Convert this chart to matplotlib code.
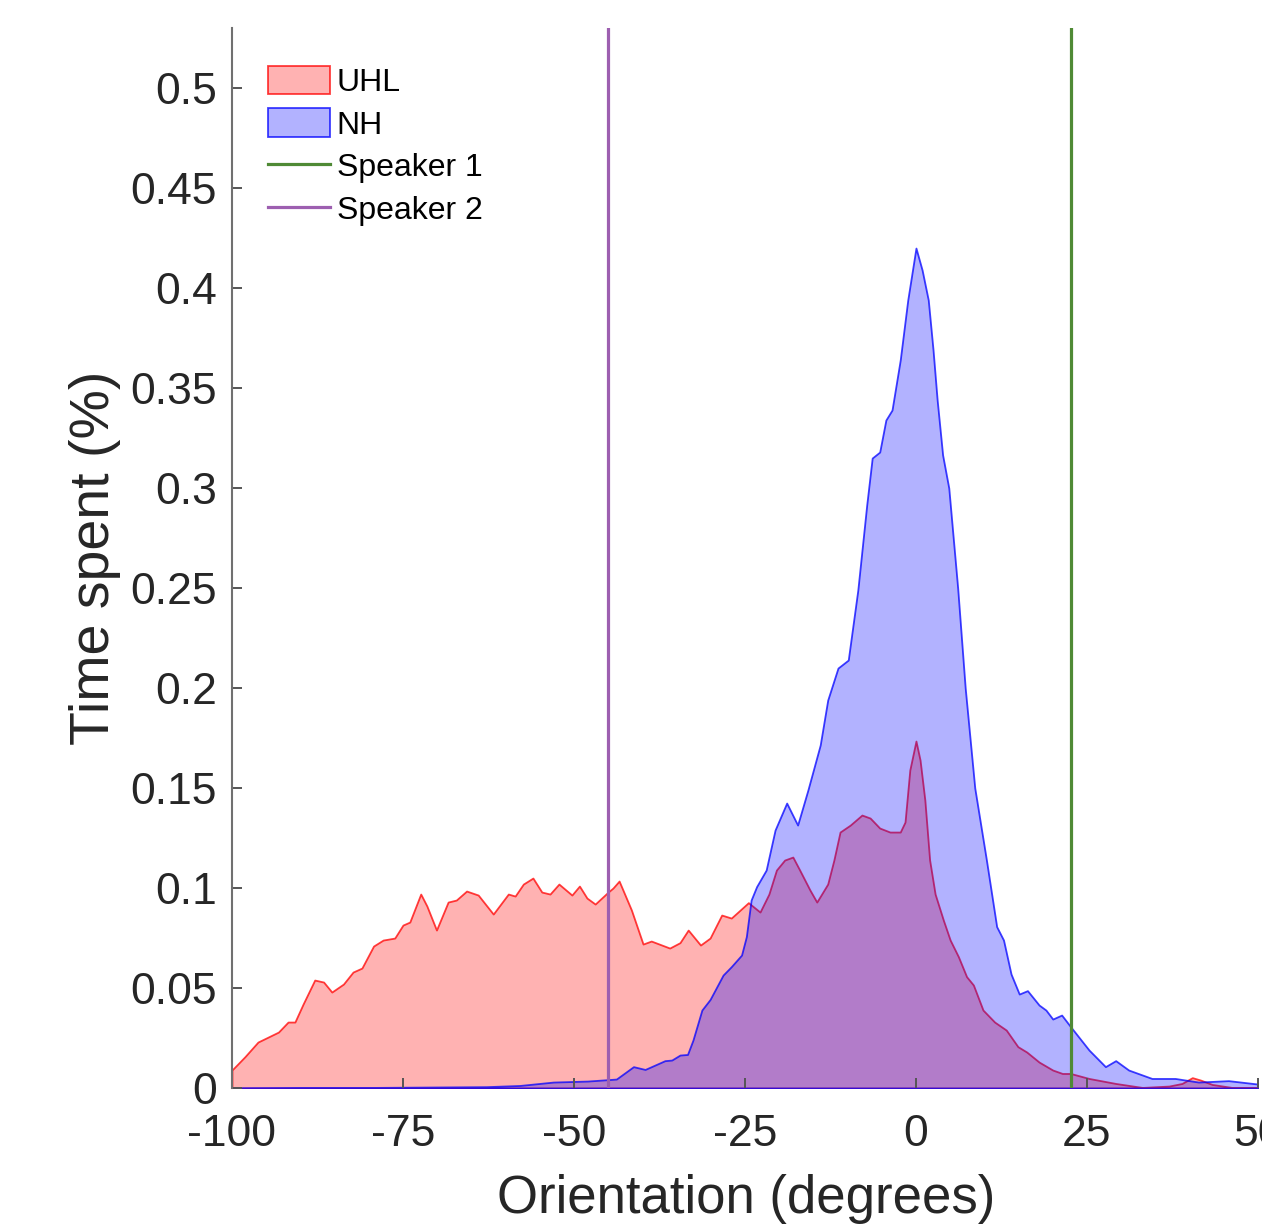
import numpy as np
import matplotlib
matplotlib.use("Agg")
import matplotlib.pyplot as plt

plt.rcParams['font.family'] = ['Liberation Sans', 'DejaVu Sans']

# orientation (deg) and time spent
uhl_x = [-100, -98.1, -96.2, -93.2, -91.8, -90.8, -89.6, -87.9, -86.6, -85.4,
         -83.7, -82.3, -81.0, -79.3, -77.9, -76.2, -75.0, -74.0, -72.4, -71.5,
         -70.1, -68.4, -67.2, -65.7, -64.0, -61.8, -59.6, -58.6, -57.4, -56.0,
         -54.7, -53.5, -52.2, -50.3, -49.2, -48.1, -46.9, -45.0, -44.3, -43.4,
         -41.6, -39.9, -38.7, -36.0, -34.5, -33.3, -31.5, -30.1, -28.4, -27.0,
         -25.7, -24.5, -22.8, -21.5, -20.4, -19.2, -18.0, -17.0, -15.5, -14.5,
         -12.9, -12.0, -11.1, -9.6, -7.9, -6.7, -5.3, -3.8, -2.3, -1.6,
         -0.9, 0.0, 0.6, 1.3, 2.0, 2.8, 4.0, 5.0, 6.2, 7.4,
         8.4, 9.8, 11.5, 13.2, 14.9, 16.2, 18.0, 20.0, 21.4, 22.6,
         25.3, 29.2, 33.1, 37.0, 38.9, 40.4, 41.6, 43.3, 46.2, 50.0]
uhl_y = [0.009, 0.0157, 0.023, 0.028, 0.033, 0.033, 0.042, 0.054, 0.053, 0.048,
         0.052, 0.058, 0.060, 0.071, 0.074, 0.075, 0.0815, 0.083, 0.097, 0.091,
         0.079, 0.093, 0.094, 0.0985, 0.0965, 0.087, 0.097, 0.096, 0.102, 0.105,
         0.098, 0.097, 0.102, 0.0965, 0.101, 0.095, 0.092, 0.098, 0.100, 0.1035,
         0.089, 0.072, 0.0735, 0.070, 0.0727, 0.079, 0.0715, 0.075, 0.0865, 0.085,
         0.089, 0.0927, 0.088, 0.097, 0.109, 0.114, 0.1155, 0.109, 0.099, 0.093,
         0.102, 0.114, 0.128, 0.1315, 0.1365, 0.135, 0.130, 0.128, 0.128, 0.133,
         0.159, 0.1735, 0.164, 0.144, 0.114, 0.097, 0.084, 0.074, 0.0657, 0.0557,
         0.0515, 0.039, 0.033, 0.029, 0.0207, 0.018, 0.013, 0.009, 0.0073, 0.0073,
         0.0048, 0.0023, 0.0003, 0.001, 0.0023, 0.0052, 0.004, 0.0018, 0.0003, 0.0003]

nh_x = [-100, -80, -62.8, -57.9, -53.0, -48.0, -43.8, -41.3, -39.6, -36.7,
        -35.7, -34.5, -33.4, -32.6, -31.3, -30.1, -28.2, -27.0, -25.5, -24.8,
        -24.1, -23.3, -21.9, -20.6, -18.9, -17.3, -15.8, -14.0, -12.9, -11.4,
        -9.9, -8.5, -7.2, -6.4, -5.3, -4.4, -3.5, -2.3, -1.2, 0.0,
        0.9, 1.8, 2.5, 3.1, 3.9, 4.8, 6.1, 7.2, 8.6, 10.3,
        11.8, 12.8, 13.9, 15.1, 16.3, 18.0, 19.0, 20.0, 21.3, 22.6,
        25.3, 27.7, 29.2, 31.1, 34.5, 37.9, 41.3, 45.7, 50.0]
nh_y = [0.0, 0.0003, 0.0007, 0.0013, 0.003, 0.0035, 0.0045, 0.0107, 0.0093, 0.0137,
        0.014, 0.0165, 0.0168, 0.024, 0.039, 0.0443, 0.0565, 0.0607, 0.0665, 0.0757,
        0.094, 0.1007, 0.109, 0.129, 0.1425, 0.1315, 0.149, 0.1715, 0.194, 0.21,
        0.214, 0.249, 0.2915, 0.315, 0.318, 0.334, 0.339, 0.364, 0.394, 0.42,
        0.409, 0.394, 0.369, 0.344, 0.3165, 0.300, 0.25, 0.20, 0.15, 0.114,
        0.0807, 0.074, 0.057, 0.047, 0.0487, 0.0415, 0.039, 0.0345, 0.0365, 0.0307,
        0.019, 0.0107, 0.0137, 0.009, 0.0048, 0.0048, 0.003, 0.0037, 0.002]

speaker1_x = 22.7
speaker2_x = -45.0

xticks = [-100, -75, -50, -25, 0, 25, 50]
yticks = [0, 0.05, 0.1, 0.15, 0.2, 0.25, 0.3, 0.35, 0.4, 0.45, 0.5]

fig = plt.figure(figsize=(12.62, 12.30), dpi=100)
ax = fig.add_axes([0.1838, 0.1154, 0.8130, 0.8618])

ax.fill_between(uhl_x, uhl_y, 0, facecolor=(1, 0, 0, 0.3), edgecolor=(1, 0, 0, 0.75),
                linewidth=1.3, label='UHL')
ax.fill_between(nh_x, nh_y, 0, facecolor=(0, 0, 1, 0.3), edgecolor=(0, 0, 1, 0.75),
                linewidth=1.3, label='NH')
ax.axvline(speaker1_x, color='#4f8a35', linewidth=2.3, label='Speaker 1', zorder=4)
ax.axvline(speaker2_x, color='#9d5fb0', linewidth=2.3, label='Speaker 2', zorder=4)

ax.set_xlim(-100, 50)
ax.set_ylim(0, 0.53)
ax.set_xticks(xticks)
ax.set_xticklabels([str(t) for t in xticks])
ax.set_yticks(yticks)
ax.set_yticklabels(['%g' % t for t in yticks])

ax.spines['top'].set_visible(False)
ax.spines['right'].set_visible(False)
ax.spines['bottom'].set_visible(False)
ax.spines['left'].set_color('#707070')
ax.spines['left'].set_linewidth(1.5)

ax.tick_params(axis='both', direction='in', length=7, width=1.4, color='#555555',
               labelsize=32, labelcolor='#262626')
ax.tick_params(axis='x', pad=19)
ax.tick_params(axis='y', pad=11)

ax.set_xlabel('Orientation (degrees)', fontsize=38, color='#262626')
ax.set_ylabel('Time spent (%)', fontsize=40, color='#262626')
ax.xaxis.set_label_coords(0.501, -0.081)
ax.yaxis.set_label_coords(-0.108, 0.5)

ax.legend(loc='upper left', bbox_to_anchor=(0.0351, 0.9645), frameon=False,
          fontsize=23, borderpad=0, borderaxespad=0, handlelength=1.95,
          handleheight=1.0, handletextpad=0.2, labelspacing=0.33)

fig.savefig('out.png', dpi=100)
